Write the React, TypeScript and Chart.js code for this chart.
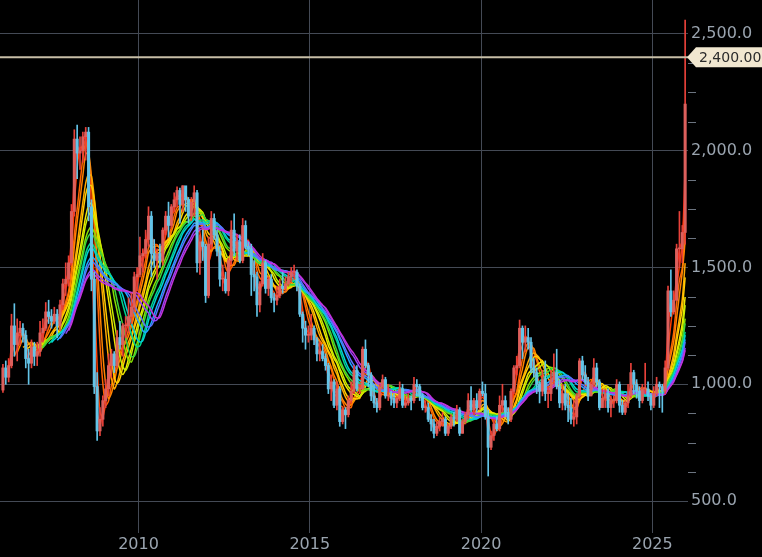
import React, { useEffect, useRef } from 'react';
import { Chart, registerables } from 'chart.js';
Chart.register(...registerables);

// ---- axis / reference data ----
const startYear = 2006;
const xTickYears = [2010, 2015, 2020, 2025];
const yMajorTicks = [500, 1000, 1500, 2000, 2500];
const yMinorStep = 125;
const levelValue = 2400;
const maPeriods = [2, 3, 5, 6, 8, 9, 11, 12, 14, 15, 17, 18, 20, 21, 23, 24];
const maColors = [
  '#ff1a00', '#ff3d00', '#ff6200', '#ff8400', '#ffa800', '#ffcc00', '#f2e600', '#c6ec00',
  '#86e000', '#3cd43c', '#00d48c', '#00cfd6', '#1fa6ff', '#5a72ff', '#9345f5', '#c232dc',
];

// ---- monthly OHLC, Jan 2006 .. Dec 2025 (one row per year) ----
const opens = [
  975, 1070, 1030, 1080, 1250, 1170, 1220, 1240, 1210, 1110, 1090, 1160,
  1120, 1140, 1220, 1240, 1310, 1290, 1270, 1300, 1250, 1340, 1430, 1450,
  1520, 1740, 2050, 1990, 2000, 2060, 2080, 1760, 1450, 990, 800, 850,
  930, 980, 1080, 1130, 1080, 1200, 1170, 1250, 1250, 1290, 1330, 1460,
  1470, 1550, 1560, 1620, 1720, 1560, 1530, 1560, 1530, 1660, 1720, 1680,
  1760, 1790, 1830, 1770, 1850, 1790, 1720, 1780, 1820, 1520, 1610, 1590,
  1380, 1600, 1710, 1640, 1570, 1450, 1450, 1400, 1530, 1660, 1570, 1610,
  1530, 1680, 1590, 1580, 1470, 1460, 1340, 1430, 1520, 1410, 1450, 1370,
  1360, 1380, 1420, 1410, 1430, 1460, 1480, 1480, 1420, 1300, 1240, 1210,
  1210, 1240, 1190, 1130, 1140, 1110, 1080, 980, 1010, 910, 980, 840,
  890, 870, 930, 970, 1060, 980, 980, 1150, 1080, 1040, 950, 920,
  900, 990, 1020, 950, 950, 940, 920, 940, 980, 910, 920, 940,
  930, 1000, 990, 950, 900, 900, 850, 830, 790, 820, 840, 850,
  790, 820, 860, 850, 890, 790, 840, 870, 930, 890, 930, 900,
  970, 960, 860, 730, 780, 830, 810, 910, 930, 880, 850, 970,
  1070, 1080, 1240, 1180, 1200, 1180, 1070, 1050, 1000, 970, 1020, 960,
  960, 1020, 1050, 990, 920, 960, 910, 900, 850, 860, 950, 1100,
  1040, 1010, 950, 1000, 1070, 1010, 900, 940, 960, 900, 930, 930,
  1000, 910, 880, 920, 950, 1050, 1000, 970, 930, 980, 980, 950,
  910, 960, 1000, 990, 970, 1070, 1400, 1310, 1360, 1580, 1580, 1650,
];
const highs = [
  1085, 1100, 1110, 1300, 1345, 1280, 1270, 1260, 1230, 1150, 1190, 1180,
  1180, 1270, 1280, 1350, 1360, 1320, 1330, 1320, 1360, 1450, 1520, 1550,
  1770, 2090, 2110, 2060, 2080, 2100, 2100, 1790, 1480, 1050, 900, 950,
  1020, 1130, 1150, 1140, 1230, 1270, 1260, 1290, 1370, 1390, 1480, 1500,
  1630, 1580, 1660, 1760, 1740, 1620, 1580, 1600, 1670, 1740, 1780, 1770,
  1820, 1845, 1840, 1850, 1840, 1800, 1800, 1850, 1830, 1640, 1660, 1600,
  1630, 1740, 1730, 1660, 1590, 1510, 1480, 1540, 1700, 1730, 1640, 1640,
  1710, 1700, 1610, 1600, 1530, 1480, 1440, 1560, 1530, 1460, 1470, 1390,
  1420, 1450, 1480, 1460, 1480, 1500, 1510, 1490, 1430, 1310, 1270, 1250,
  1300, 1250, 1200, 1180, 1170, 1130, 1090, 1040, 1020, 1010, 990, 900,
  900, 950, 1010, 1080, 1080, 1000, 1160, 1190, 1090, 1050, 1000, 940,
  1000, 1040, 1030, 1000, 970, 960, 950, 1010, 1000, 950, 960, 950,
  1030, 1020, 1000, 960, 930, 920, 870, 850, 840, 860, 880, 860,
  830, 870, 880, 910, 900, 850, 880, 960, 990, 940, 960, 980,
  1010, 1000, 890, 800, 850, 860, 950, 1000, 950, 900, 980, 1080,
  1120, 1275, 1250, 1250, 1240, 1200, 1110, 1070, 1010, 1060, 1100, 990,
  1060, 1130, 1150, 1020, 1000, 1000, 960, 940, 930, 960, 1110, 1120,
  1080, 1030, 1010, 1110, 1090, 1020, 980, 980, 980, 950, 950, 1020,
  1010, 930, 930, 1000, 1090, 1060, 1020, 990, 1000, 1090, 1010, 960,
  990, 1030, 1010, 1000, 1100, 1420, 1490, 1400, 1600, 1740, 1680, 2560,
];
const lows = [
  965, 1000, 1010, 1070, 1120, 1100, 1170, 1180, 1070, 1000, 1070, 1080,
  1080, 1120, 1180, 1230, 1260, 1240, 1260, 1200, 1230, 1320, 1380, 1420,
  1510, 1720, 1880, 1920, 1950, 1960, 1700, 1400, 960, 760, 780, 820,
  900, 950, 1030, 1050, 1070, 1150, 1120, 1200, 1220, 1260, 1310, 1400,
  1460, 1480, 1540, 1590, 1460, 1500, 1450, 1500, 1510, 1640, 1630, 1670,
  1740, 1760, 1690, 1740, 1740, 1690, 1700, 1720, 1480, 1470, 1530, 1350,
  1370, 1580, 1620, 1550, 1420, 1400, 1390, 1380, 1510, 1550, 1530, 1520,
  1520, 1580, 1550, 1380, 1400, 1290, 1310, 1420, 1390, 1380, 1350, 1310,
  1340, 1370, 1390, 1400, 1420, 1440, 1450, 1400, 1290, 1180, 1150, 1180,
  1190, 1170, 1100, 1100, 1100, 1060, 960, 930, 900, 890, 820, 830,
  810, 860, 920, 960, 970, 960, 980, 1070, 990, 930, 900, 880,
  890, 980, 940, 930, 910, 900, 900, 930, 900, 900, 910, 890,
  920, 950, 930, 890, 880, 840, 800, 770, 780, 800, 820, 780,
  780, 810, 820, 840, 780, 790, 830, 850, 880, 870, 880, 890,
  950, 850, 607, 720, 760, 800, 800, 880, 860, 830, 840, 960,
  1040, 1070, 1110, 1140, 1150, 1050, 1030, 960, 920, 950, 930, 900,
  930, 1000, 980, 900, 890, 890, 840, 830, 820, 830, 940, 1020,
  1000, 930, 950, 990, 990, 890, 900, 900, 880, 860, 900, 920,
  880, 870, 870, 900, 940, 960, 940, 900, 920, 960, 930, 890,
  900, 950, 900, 880, 960, 1060, 1290, 1300, 1360, 1500, 1520, 1600,
];
const closes = [
  1070, 1030, 1080, 1250, 1170, 1220, 1240, 1210, 1110, 1090, 1160, 1120,
  1140, 1220, 1240, 1310, 1290, 1270, 1300, 1250, 1340, 1430, 1450, 1520,
  1740, 2050, 1990, 2000, 2060, 2080, 1760, 1450, 990, 800, 850, 930,
  980, 1080, 1130, 1080, 1200, 1170, 1250, 1250, 1290, 1330, 1460, 1470,
  1550, 1560, 1620, 1720, 1560, 1530, 1560, 1530, 1660, 1720, 1680, 1760,
  1790, 1830, 1770, 1850, 1790, 1720, 1780, 1820, 1520, 1610, 1590, 1380,
  1600, 1710, 1640, 1570, 1450, 1450, 1400, 1530, 1660, 1570, 1610, 1530,
  1680, 1590, 1580, 1470, 1460, 1340, 1430, 1520, 1410, 1450, 1370, 1360,
  1380, 1420, 1410, 1430, 1460, 1480, 1480, 1420, 1300, 1240, 1210, 1210,
  1240, 1190, 1130, 1140, 1110, 1080, 980, 1010, 910, 980, 840, 890,
  870, 930, 970, 1060, 980, 980, 1150, 1080, 1040, 950, 920, 900,
  990, 1020, 950, 950, 940, 920, 940, 980, 910, 920, 940, 930,
  1000, 990, 950, 900, 900, 850, 830, 790, 820, 840, 850, 790,
  820, 860, 850, 890, 790, 840, 870, 930, 890, 930, 900, 970,
  960, 860, 730, 780, 830, 810, 910, 930, 880, 850, 970, 1070,
  1080, 1240, 1180, 1200, 1180, 1070, 1050, 1000, 970, 1020, 960, 960,
  1020, 1050, 990, 920, 960, 910, 900, 850, 860, 950, 1100, 1040,
  1010, 950, 1000, 1070, 1010, 900, 940, 960, 900, 930, 930, 1000,
  910, 880, 920, 950, 1050, 1000, 970, 930, 980, 980, 950, 910,
  960, 1000, 990, 970, 1070, 1400, 1310, 1360, 1580, 1580, 1650, 2200,
];

// ---- presentation ----
const UP_BODY = '#dc5f5c';
const UP_WICK = '#e8413a';
const DOWN = '#63c4e8';
const GRID = '#444a55';
const LABEL = '#9aa4af';
const FONT = '"DejaVu Sans", Verdana, sans-serif';

const fmt1 = new Intl.NumberFormat('en-US', { minimumFractionDigits: 1, maximumFractionDigits: 1 });
const fmt2 = new Intl.NumberFormat('en-US', { minimumFractionDigits: 2, maximumFractionDigits: 2 });

function sma(values: number[], n: number): (number | null)[] {
  return values.map((_, i) => {
    if (i < n - 1) return null;
    let s = 0;
    for (let k = i - n + 1; k <= i; k++) s += values[k];
    return s / n;
  });
}

const decorPlugin = {
  id: 'decor',
  afterDraw(chart: any) {
    const { ctx, chartArea, scales } = chart;
    const y = scales.y;
    ctx.save();
    // minor ticks on the right axis
    ctx.strokeStyle = '#6c7480';
    ctx.lineWidth = 1;
    for (let v = yMajorTicks[0]; v <= yMajorTicks[yMajorTicks.length - 1]; v += yMinorStep) {
      if (yMajorTicks.includes(v)) continue;
      const py = Math.round(y.getPixelForValue(v)) + 0.5;
      ctx.beginPath();
      ctx.moveTo(chartArea.right, py);
      ctx.lineTo(chartArea.right + 8, py);
      ctx.stroke();
    }
    // horizontal level line with tag
    const ly = y.getPixelForValue(levelValue);
    ctx.strokeStyle = '#c7bea7';
    ctx.lineWidth = 2;
    ctx.beginPath();
    ctx.moveTo(0, ly);
    ctx.lineTo(chartArea.right, ly);
    ctx.stroke();
    const tip = chartArea.right - 1;
    ctx.fillStyle = '#f1e7d0';
    ctx.beginPath();
    ctx.moveTo(tip, ly);
    ctx.lineTo(tip + 9, ly - 10);
    ctx.lineTo(chart.width, ly - 10);
    ctx.lineTo(chart.width, ly + 10);
    ctx.lineTo(tip + 9, ly + 10);
    ctx.closePath();
    ctx.fill();
    ctx.fillStyle = '#2b2b2b';
    ctx.font = '14px ' + FONT;
    ctx.textBaseline = 'middle';
    ctx.textAlign = 'left';
    ctx.fillText(fmt2.format(levelValue), tip + 12, ly + 1);
    ctx.restore();
  },
};

export default function App() {
  const ref = useRef<HTMLCanvasElement | null>(null);
  useEffect(() => {
    if (!ref.current) return;
    const n = closes.length;
    const xs = closes.map((_, i) => i + 0.5);
    const isUp = closes.map((c, i) => c >= opens[i]);

    const maSets = maPeriods.map((p, k) => ({
      type: 'line' as const,
      data: sma(closes, p).map((v, i) => ({ x: xs[i], y: v })),
      borderColor: maColors[k],
      borderWidth: 1.5,
      pointRadius: 0,
      tension: 0.25,
      fill: false,
      order: 10 + (maPeriods.length - k),
    }));

    const wicks = {
      type: 'bar' as const,
      data: xs.map((x, i) => ({ x, y: [lows[i], highs[i]] })),
      backgroundColor: isUp.map((u) => (u ? UP_WICK : DOWN)),
      barThickness: 1,
      grouped: false,
      order: 2,
    };
    const bodies = {
      type: 'bar' as const,
      data: xs.map((x, i) => ({ x, y: [opens[i], closes[i]] })),
      backgroundColor: isUp.map((u) => (u ? UP_BODY : DOWN)),
      barThickness: 2.4,
      minBarLength: 1,
      grouped: false,
      order: 1,
    };

    const chart = new Chart(ref.current, {
      type: 'bar',
      data: { datasets: [bodies, wicks, ...maSets] as any },
      options: {
        animation: false,
        responsive: true,
        maintainAspectRatio: false,
        devicePixelRatio: 1,
        events: [],
        layout: { padding: 0 },
        plugins: { legend: { display: false }, tooltip: { enabled: false } },
        scales: {
          x: {
            type: 'linear',
            min: -0.53,
            max: n + 0.5,
            offset: false,
            afterFit: (s: any) => {
              s.height = 29;
              s.paddingLeft = 0; s.paddingRight = 0; s.paddingTop = 0; s.paddingBottom = 0;
            },
            afterBuildTicks: (s: any) => { s.ticks = xTickYears.map((yr) => ({ value: (yr - startYear) * 12 })); },
            grid: { color: GRID, lineWidth: 1, offset: false, drawTicks: true, tickLength: 5, tickColor: GRID },
            border: { display: false },
            ticks: {
              color: LABEL,
              font: { family: FONT, size: 16 },
              padding: 2,
              maxRotation: 0,
              autoSkip: false,
              callback: (v: any) => String(startYear + Number(v) / 12),
            },
          },
          y: {
            type: 'linear',
            position: 'right',
            min: 384.4,
            max: 2645.6,
            afterFit: (s: any) => {
              s.width = 74;
              s.paddingLeft = 0; s.paddingRight = 0; s.paddingTop = 0; s.paddingBottom = 0;
            },
            afterBuildTicks: (s: any) => { s.ticks = yMajorTicks.map((v) => ({ value: v })); },
            grid: { color: GRID, lineWidth: 1, drawTicks: false },
            border: { display: false },
            ticks: {
              color: LABEL,
              font: { family: FONT, size: 16 },
              padding: 3,
              callback: (v: any) => fmt1.format(Number(v)),
            },
          },
        },
      },
      plugins: [decorPlugin],
    });
    return () => chart.destroy();
  }, []);

  return (
    <div style={{ position: 'fixed', left: 0, top: 0, width: 762, height: 557, background: '#000' }}>
      <canvas ref={ref} />
    </div>
  );
}
